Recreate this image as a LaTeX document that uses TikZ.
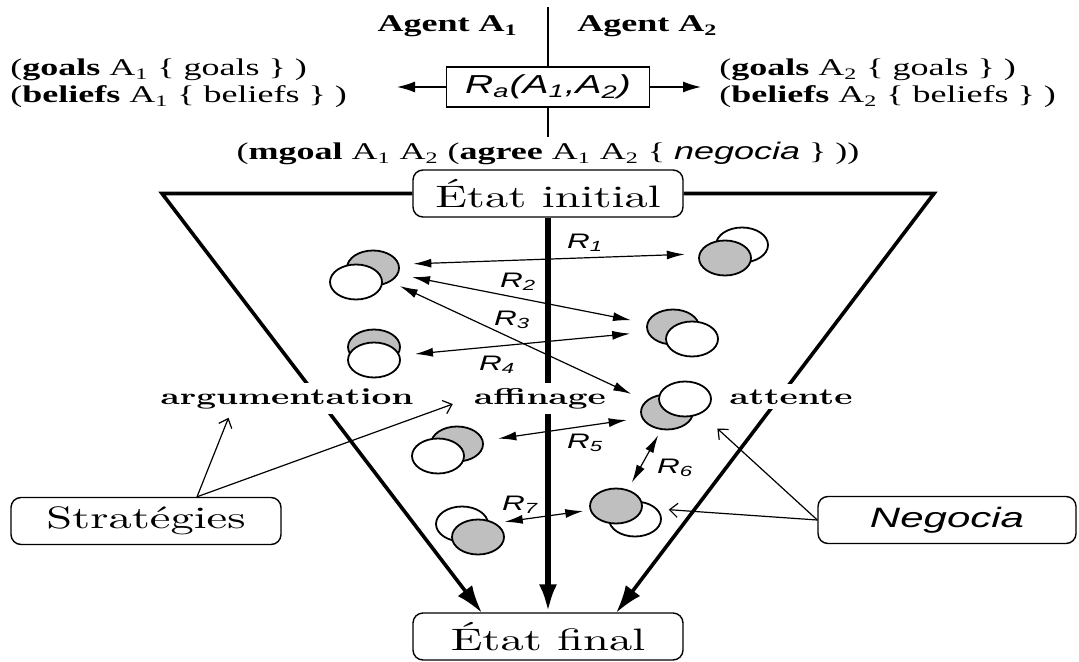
\documentclass[tikz,border=0pt]{standalone}
\usepackage{fontspec}
\setmainfont{lmroman10-regular.otf}[BoldFont=lmroman10-bold.otf,ItalicFont=lmroman10-italic.otf,FakeStretch=1.5]
\newfontfamily\tms{Liberation Serif}[FakeStretch=1.5]
\newfontfamily\hlv{Liberation Sans}[FakeStretch=1.5]
\usetikzlibrary{arrows.meta,shapes.geometric}

\begin{document}
\begin{tikzpicture}[x=0.5pt,y=-0.5pt,
    etat/.style ={draw, rounded corners=5pt, line width=0.7pt, minimum width=135pt, minimum height=23.5pt, font=\fontsize{15.5}{18}\selectfont},
    gris/.style ={ellipse, draw, line width=0.9pt, fill=gray!50, inner sep=0pt, minimum width=26pt, minimum height=17.5pt},
    blanc/.style ={gris, fill=white},
    rel/.style ={line width=0.6pt, {Latex[length=9pt,width=4.5pt]}-{Latex[length=9pt,width=4.5pt]}},
    lbl/.style ={inner sep=0pt, font=\fontsize{10.5}{12}\selectfont\hlv\itshape},
    texte/.style ={inner sep=0pt, font=\fontsize{12}{14}\selectfont\tms},
    mode/.style ={fill=white, inner sep=2.5pt, font=\fontsize{11.5}{14}\selectfont\bfseries},
    fleche/.style ={line width=1.8pt, line join=miter, -{Latex[length=14pt,width=9pt]}},
    fine/.style ={line width=0.6pt, -{Straight Barb[length=4pt,width=7pt]}}]
   \useasboundingbox (0,0) rectangle (1079,662);
   \coordinate (haut) at (548,7);
   \coordinate (bas) at (548,137);
   \coordinate (ga) at (397,87);
   \coordinate (dr) at (701,87);
   \coordinate (hg) at (162,193.5);
   \coordinate (hd) at (934,193.5);
   \coordinate (bg) at (482,613);
   \coordinate (bd) at (616,613);
   \node[texte, anchor=base east] (A1) at (518,32) {\bfseries Agent A\textsubscript{1}};
   \node[texte, anchor=base west] (A2) at (577,32) {\bfseries Agent A\textsubscript{2}};
   \node[draw, fill=white, line width=0.6pt, minimum width=101.5pt, minimum height=20pt, font=\fontsize{13}{15}\selectfont\hlv\itshape] (Ra) at (548,87) {R\textsubscript{a}(A\textsubscript{1},A\textsubscript{2})};
   \node[texte, anchor=base west] (G1) at (10,76) {(\textbf{goals} A\textsubscript{1} \{ goals \} )};
   \node[texte, anchor=base west] (B1) at (10,103) {(\textbf{beliefs} A\textsubscript{1} \{ beliefs \} )};
   \node[texte, anchor=base west] (G2) at (719,76) {(\textbf{goals} A\textsubscript{2} \{ goals \} )};
   \node[texte, anchor=base west] (B2) at (719,103) {(\textbf{beliefs} A\textsubscript{2} \{ beliefs \} )};
   \node[texte, anchor=base] (mg) at (548,160) {(\textbf{mgoal} A\textsubscript{1} A\textsubscript{2} (\textbf{agree} A\textsubscript{1} A\textsubscript{2} \{ {\hlv\itshape negocia} \} ))};
   \node[etat] (init) at (548,193.5) {État initial};
   \node[etat] (fin) at (548,636.5) {État final};
   \node[etat] (strat) at (146,521) {Stratégies};
   \node[etat, minimum width=129pt, font=\fontsize{14}{17}\selectfont\hlv\itshape] (neg) at (947,520) {Negocia};
   \draw[line width=0.6pt] (haut) -- (Ra.north);
   \draw[line width=0.6pt] (Ra.south) -- (bas);
   \draw[line width=0.7pt, -{Latex[length=9pt,width=5.5pt]}] (Ra.west) -- (ga);
   \draw[line width=0.7pt, -{Latex[length=9pt,width=5.5pt]}] (Ra.east) -- (dr);
   \draw[fleche] (init.west) -- (hg) -- (bg);
   \draw[fleche] (init.east) -- (hd) -- (bd);
   \draw[fleche, line width=2.8pt] (init.south) -- (fin.north);
   \node[mode, anchor=base] (arg) at (287,404) {argumentation};
   \node[mode, anchor=base] (aff) at (540,404) {affinage};
   \node[mode, anchor=base] (att) at (791,404) {attente};
   \node[gris] (g1) at (373,268) {};
   \node[blanc] (w1) at (356,282) {};
   \node[gris] (g2) at (374,347) {};
   \node[blanc] (w2) at (374,360) {};
   \node[blanc] (w3) at (742,245) {};
   \node[gris] (g3) at (725,258) {};
   \node[gris] (g4) at (673,327) {};
   \node[blanc] (w4) at (692,339) {};
   \node[gris] (g5) at (667,412) {};
   \node[blanc] (w5) at (685,399) {};
   \node[gris] (g6) at (457,444) {};
   \node[blanc] (w6) at (438,456) {};
   \node[blanc] (w7) at (635,519) {};
   \node[gris] (g7) at (616,506) {};
   \node[blanc] (w8) at (462,524) {};
   \node[gris] (g8) at (478,537) {};
   \draw[rel, shorten <=7pt, shorten >=7pt] (g1.8) -- (g3.171);
   \draw[rel, shorten <=7pt, shorten >=8pt] (g1.-14) -- (g4.172);
   \draw[rel, shorten <=5pt, shorten >=8pt] (g1.-38) -- (g5.152);
   \draw[rel, shorten <=7.5pt, shorten >=8.5pt] (w2.10) -- (g4.191);
   \draw[rel, shorten <=7.5pt, shorten >=7.5pt] (g6.7) -- (g5.193);
   \draw[rel, shorten <=3pt, shorten >=4pt] (g5.252) -- (g7.54);
   \draw[rel, shorten <=8pt, shorten >=3.3pt] (w8.0) -- (g7.189);
   \node[lbl] (r1) at (585,243) {R\textsubscript{1}};
   \node[lbl] (r2) at (518,282) {R\textsubscript{2}};
   \node[lbl] (r3) at (512,320) {R\textsubscript{3}};
   \node[lbl] (r4) at (497,365) {R\textsubscript{4}};
   \node[lbl] (r5) at (585,443) {R\textsubscript{5}};
   \node[lbl] (r6) at (675,468) {R\textsubscript{6}};
   \node[lbl] (r7) at (520,505) {R\textsubscript{7}};
   \draw[fine, shorten >=2pt] ([xshift=25.5pt]strat.north) -- ([xshift=-28.5pt]arg.south);
   \draw[fine, shorten >=8.5pt] ([xshift=25.5pt]strat.north) -- (aff.west);
   \draw[fine, shorten >=11pt] (neg.west) -- (w5);
   \draw[fine, shorten >=13pt] (neg.west) -- (g7);
\end{tikzpicture}
\end{document}
